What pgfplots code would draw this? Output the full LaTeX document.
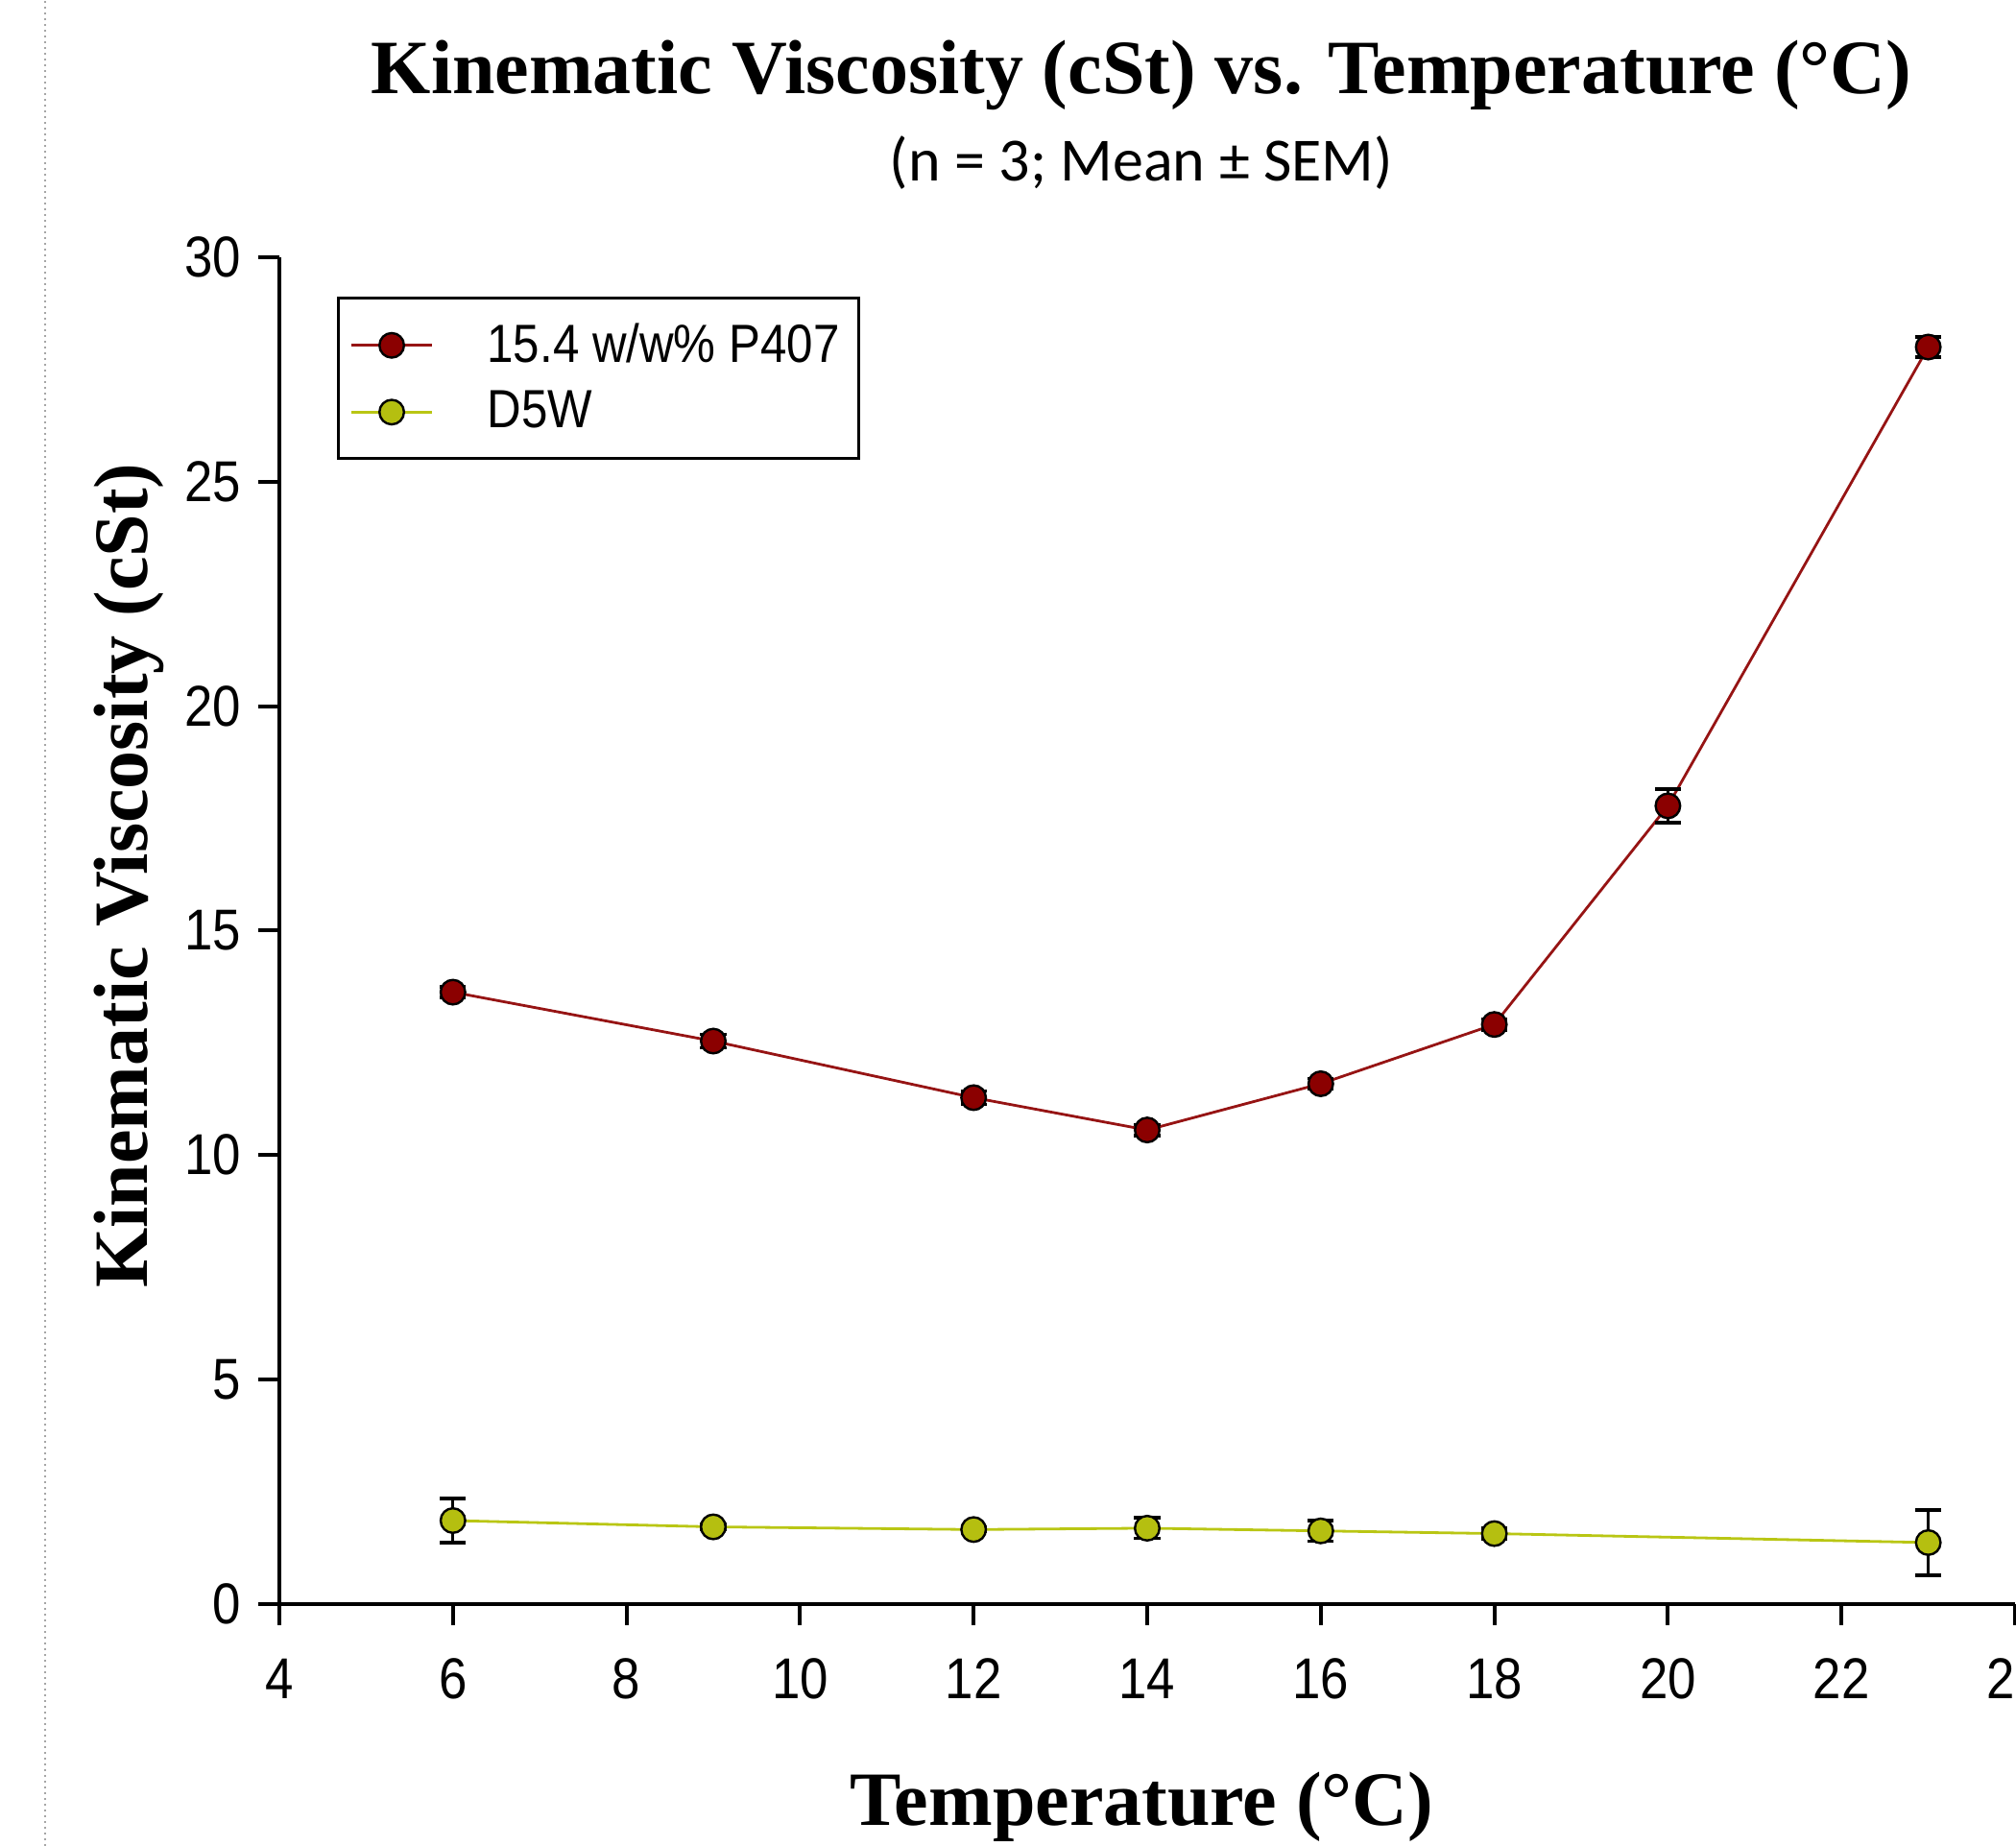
\documentclass[border=0pt]{standalone}
\usepackage{fontspec}
\setmainfont{Liberation Sans}[FakeStretch=0.88]
\newfontfamily\timesf{Liberation Serif}
\newfontfamily\calib{Carlito}
\usepackage{pgfplots}
\pgfplotsset{compat=1.18}

\definecolor{pred}{RGB}{139,0,0}
\definecolor{pline}{RGB}{150,20,20}
\definecolor{dgreen}{RGB}{181,191,16}
\definecolor{dline}{RGB}{185,198,20}

\begin{document}
\begin{tikzpicture}
\useasboundingbox (0,0) rectangle (525pt,480.75pt);
\draw[gray!70, densely dotted, line width=0.5pt] (11.75pt,0) -- (11.75pt,480.75pt);
\node[font=\timesf\bfseries\fontsize{20}{20}\selectfont] at (297.25pt,461.25pt) {Kinematic Viscosity (cSt) vs. Temperature (°C)};
\node[font=\calib\fontsize{16}{17}\selectfont] at (297.25pt,438.25pt) {(n = 3; Mean ± SEM)};
\begin{axis}[
    at={(72.75pt,63pt)}, anchor=south west,
    scale only axis,
    width=452pt, height=350.75pt,
    xmin=4, xmax=24, ymin=0, ymax=30,
    xtick={4,6,...,24}, ytick={0,5,...,30},
    axis lines=left,
    axis line style={-, line width=1pt},
    tick align=outside,
    major tick length=5.5pt,
    tick style={line width=1pt, black},
    /pgf/number format/assume math mode=true,
    ticklabel style={font=\fontsize{15}{15}\selectfont},
    xticklabel style={yshift=-5.2pt},
    yticklabel style={xshift=-1pt},
    xlabel={\timesf\bfseries Temperature (°C)},
    ylabel={\timesf\bfseries Kinematic Viscosity (cSt)},
    label style={font=\fontsize{20}{20}\selectfont},
    xlabel style={at={(axis description cs:0.497,-0.1504)}, anchor=center},
    ylabel style={at={(axis description cs:-0.0868,0.541)}, anchor=center, rotate=0},
    legend style={at={(axis description cs:0.0332,0.9708)}, anchor=north west,
        draw=black, line width=0.75pt, font=\fontsize{14}{16}\selectfont,
        inner xsep=3pt, inner ysep=4.5pt, row sep=2pt},
    legend cell align=left,
    legend image code/.code={\draw[mark repeat=2,mark phase=2] plot coordinates {(0cm,0cm)(0.37cm,0cm)(0.74cm,0cm)};},
    every axis plot/.append style={line width=0.7pt},
    error bars/error bar style={black, line width=0.8pt},
    error bars/error mark options={black, line width=0.9pt, mark size=3.4pt, rotate=90},
]
\addplot[color=pline, mark=*, mark size=3.2pt, mark options={fill=pred, draw=black, line width=0.6pt},
    error bars/.cd, y dir=both, y explicit]
    coordinates {
    (6,13.63) +- (0,0.12)
    (9,12.54) +- (0,0.15)
    (12,11.28) +- (0,0.15)
    (14,10.56) +- (0,0.12)
    (16,11.59) +- (0,0.12)
    (18,12.91) +- (0,0.12)
    (20,17.78) +- (0,0.37)
    (23,28.0) +- (0,0.23)
    };
\addlegendentry{\hspace{12pt}15.4 w/w\% P407}
\addplot[color=dline, mark=*, mark size=3.2pt, mark options={fill=dgreen, draw=black, line width=0.6pt},
    error bars/.cd, y dir=both, y explicit]
    coordinates {
    (6,1.86) +- (0,0.49)
    (9,1.72) +- (0,0.05)
    (12,1.66) +- (0,0.05)
    (14,1.69) +- (0,0.23)
    (16,1.63) +- (0,0.23)
    (18,1.57) +- (0,0.12)
    (23,1.37) +- (0,0.73)
    };
\addlegendentry{\hspace{12pt}D5W}
\end{axis}
\end{tikzpicture}
\end{document}
